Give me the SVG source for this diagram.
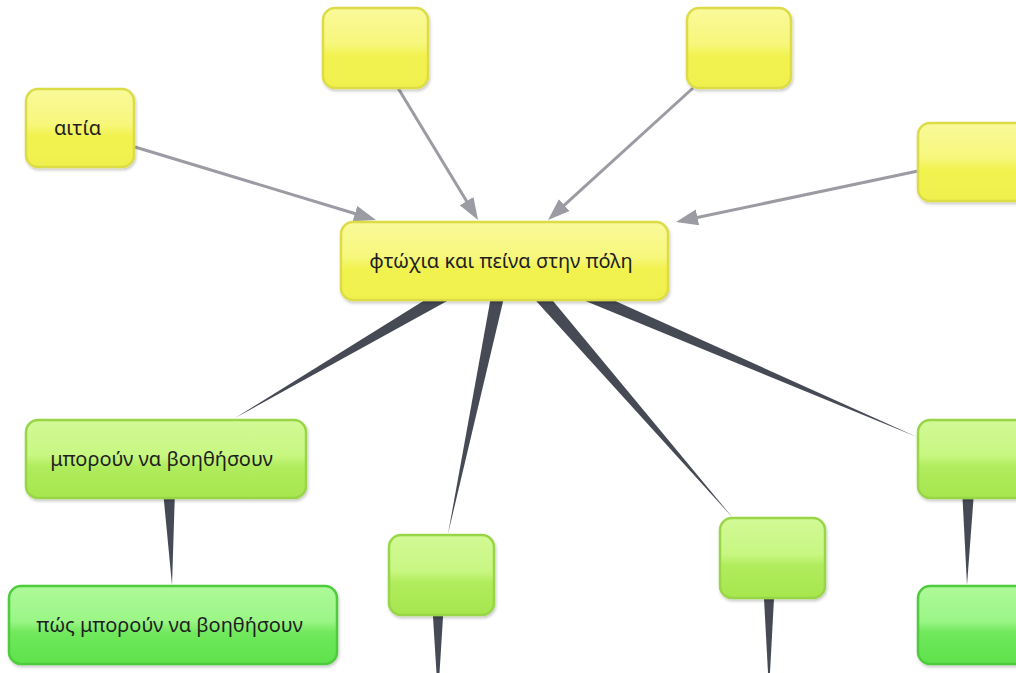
<svg xmlns="http://www.w3.org/2000/svg" width="1016" height="673" viewBox="0 0 1016 673">
  <defs>
    <linearGradient id="gY" x1="0" y1="0" x2="0" y2="1">
      <stop offset="0" stop-color="#f9f99a"/>
      <stop offset="0.45" stop-color="#f7f77c"/>
      <stop offset="0.6" stop-color="#f2f250"/>
      <stop offset="1" stop-color="#f0f04e"/>
    </linearGradient>
    <linearGradient id="gL" x1="0" y1="0" x2="0" y2="1">
      <stop offset="0" stop-color="#d2f996"/>
      <stop offset="0.45" stop-color="#c8f782"/>
      <stop offset="0.6" stop-color="#b0ec5c"/>
      <stop offset="1" stop-color="#a6e64e"/>
    </linearGradient>
    <linearGradient id="gG" x1="0" y1="0" x2="0" y2="1">
      <stop offset="0" stop-color="#aef99a"/>
      <stop offset="0.45" stop-color="#9af686"/>
      <stop offset="0.6" stop-color="#70e85c"/>
      <stop offset="1" stop-color="#5ee24c"/>
    </linearGradient>
    <filter id="sh" x="-10%" y="-10%" width="120%" height="130%">
      <feDropShadow dx="1" dy="2" stdDeviation="1.5" flood-color="#000" flood-opacity="0.22"/>
    </filter>
    <marker id="ah" markerUnits="userSpaceOnUse" markerWidth="24" markerHeight="18" refX="10" refY="8" orient="auto">
      <path d="M0,0 L22,8 L0,16 z" fill="#9b9ba3"/>
    </marker>
  </defs>
  <style>
    .y { fill: url(#gY); stroke: #dcdc46; stroke-width: 2.5; filter: url(#sh); }
    .l { fill: url(#gL); stroke: #98d646; stroke-width: 2.5; filter: url(#sh); }
    .g { fill: url(#gG); stroke: #50cc3e; stroke-width: 2.5; filter: url(#sh); }
    .t { font-family: "Noto Sans", "DejaVu Sans", sans-serif; font-size: 20px; fill: #1e1e1e; text-anchor: middle; }
    .a { stroke: #9b9ba3; stroke-width: 3; fill: none; marker-end: url(#ah); }
    .w { fill: #464a55; }
  </style>
  <rect width="1016" height="673" fill="#ffffff"/>
  <g id="connectors">
    <line class="a" x1="135" y1="147" x2="364.5" y2="216.5"/>
    <line class="a" x1="398" y1="88" x2="471.8" y2="209.7"/>
    <line class="a" x1="693" y1="88" x2="556.9" y2="211.9"/>
    <line class="a" x1="918" y1="171" x2="687.7" y2="219.5"/>
    <polygon class="w" points="507,267.9 499,254.1 235,418"/>
    <polygon class="w" points="512.3,262.5 497.7,259.5 448,534"/>
    <polygon class="w" points="515.7,256.1 504.3,265.9 733,518"/>
    <polygon class="w" points="511,254.1 505,267.9 917,437"/>
    <polygon class="w" points="176,458.7 160,459.3 172,585"/>
    <polygon class="w" points="445.6,575 430.4,575 438,697"/>
    <polygon class="w" points="776.2,558 761.8,558 769,691"/>
    <polygon class="w" points="976.5,459 960.5,459 967,585"/>
  </g>
  <g id="n_center">
    <rect class="y" x="341" y="222" width="327" height="78" rx="12"/>
    <text class="t" x="501" y="268">φτώχια και πείνα στην πόλη</text>
  </g>
  <g id="n_aitia">
    <rect class="y" x="26" y="89" width="108" height="78" rx="12"/>
    <text class="t" x="77.5" y="135">αιτία</text>
  </g>
  <g id="n_top1">
    <rect class="y" x="323" y="8" width="105" height="80" rx="12"/>
  </g>
  <g id="n_top2">
    <rect class="y" x="687" y="8" width="104" height="80" rx="12"/>
  </g>
  <g id="n_right">
    <rect class="y" x="918" y="123" width="110" height="78" rx="12"/>
  </g>
  <g id="n_help">
    <rect class="l" x="26" y="420" width="280" height="78" rx="12"/>
    <text class="t" x="161.5" y="466">μπορούν να βοηθήσουν</text>
  </g>
  <g id="n_how">
    <rect class="g" x="9" y="586" width="328" height="78" rx="12"/>
    <text class="t" x="169.5" y="632">πώς μπορούν να βοηθήσουν</text>
  </g>
  <g id="n_g1">
    <rect class="l" x="389" y="535" width="105" height="80" rx="12"/>
  </g>
  <g id="n_g2">
    <rect class="l" x="720" y="518" width="105" height="80" rx="12"/>
  </g>
  <g id="n_g3">
    <rect class="l" x="918" y="420" width="110" height="78" rx="12"/>
  </g>
  <g id="n_g4">
    <rect class="g" x="918" y="586" width="110" height="78" rx="12"/>
  </g>
</svg>
